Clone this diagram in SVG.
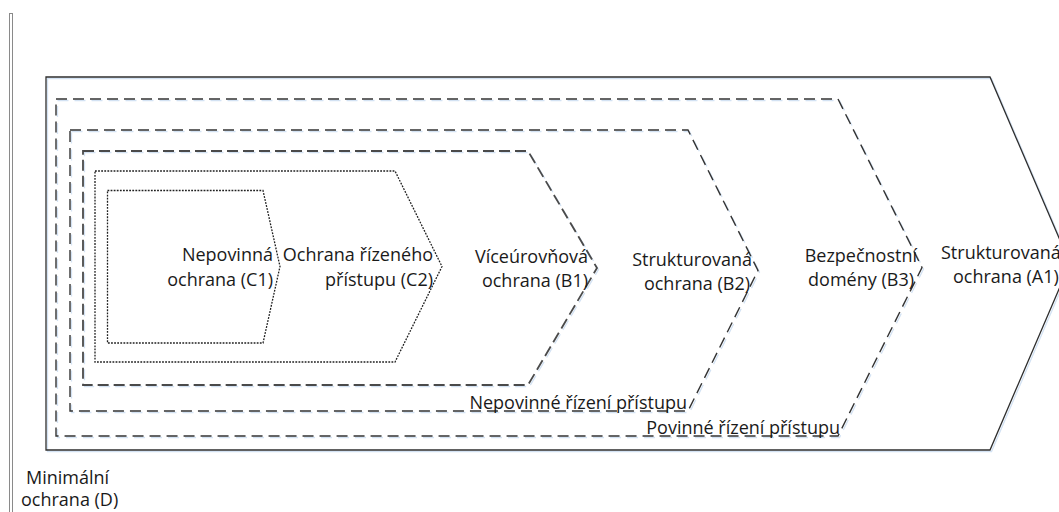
<svg xmlns="http://www.w3.org/2000/svg" width="1059" height="512" viewBox="0 0 1059 512">
<style>
.t{font-family:"Open Sans","Liberation Sans",sans-serif;font-size:18px;fill:#1a1a1a;text-anchor:end}
.tl{font-family:"Open Sans","Liberation Sans",sans-serif;font-size:18px;fill:#1a1a1a;text-anchor:start}
.sh{fill:none;stroke:#d3e2f3;stroke-width:1.3}
.solid{fill:none;stroke:#2e2e2e;stroke-width:1.3}
.dash{fill:none;stroke:#333333;stroke-width:1.4;stroke-dasharray:11 6}
.dash2{fill:none;stroke:#4a4a4a;stroke-width:1.8;stroke-dasharray:11 5}
.dot{fill:none;stroke:#1f1f1f;stroke-width:1.3;stroke-dasharray:1.8 1.3}
</style>
<rect width="1059" height="512" fill="#ffffff"/>
<rect x="9.5" y="13.5" width="3" height="510" fill="none" stroke="#8a8a8a" stroke-width="1"/>
<g id="connectors"></g>
<g id="node-A1">
<path class="sh" d="M47.5,78.5 H991.5 L1071.5,265 L991.5,451.5 H47.5 Z"/>
<path class="solid" d="M46,77 H990 L1070,263.5 L990,450 H46 Z"/>
<text class="tl" x="941" y="259">Strukturovaná</text>
<text class="tl" x="953" y="283">ochrana (A1)</text>
</g>
<g id="node-B3">
<path class="sh" d="M57.5,100.5 H839.5 L923.5,269 L839.5,437.5 H57.5 Z" stroke-dasharray="11 6"/>
<path class="dash" d="M56,99 H838 L922,267.5 L838,436 H56 Z"/>
<text class="t" x="917" y="262">Bezpečnostní</text>
<text class="t" x="914" y="286">domény (B3)</text>
<text class="t" x="840" y="434">Povinné řízení přístupu</text>
</g>
<g id="node-B2">
<path class="sh" d="M71.5,131.5 H689.5 L759.5,272 L689.5,412.5 H71.5 Z" stroke-dasharray="11 6"/>
<path class="dash" d="M70,130 H688 L758,270.5 L688,411 H70 Z"/>
<text class="t" x="752" y="266">Strukturovaná</text>
<text class="t" x="750" y="290">ochrana (B2)</text>
<text class="t" x="687" y="409">Nepovinné řízení přístupu</text>
</g>
<g id="node-B1">
<path class="sh" d="M84.5,152.5 H529.5 L598.5,269.5 L529.5,386.5 H84.5 Z" stroke-dasharray="11 5"/>
<path class="dash2" d="M83,151 H528 L597,268 L528,385 H83 Z"/>
<text class="t" x="588" y="263">Víceúrovňová</text>
<text class="t" x="588" y="287">ochrana (B1)</text>
</g>
<g id="node-C2">
<path class="dot" d="M95,171 H395 L442,266.5 L395,362 H95 Z"/>
<text class="t" x="433" y="261">Ochrana řízeného</text>
<text class="t" x="433" y="286">přístupu (C2)</text>
</g>
<g id="node-C1">
<path class="dot" d="M107.5,190.5 H263 L280,266.5 L263,343 H107.5 Z"/>
<text class="t" x="273" y="261">Nepovinná</text>
<text class="t" x="273" y="286">ochrana (C1)</text>
</g>
<g id="node-D">
<text class="tl" x="26" y="484">Minimální</text>
<text class="tl" x="21" y="506">ochrana (D)</text>
</g>
</svg>
